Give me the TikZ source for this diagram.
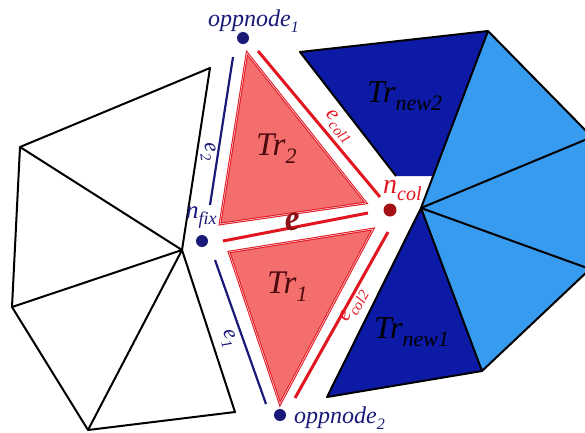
\documentclass[tikz,border=0pt]{standalone}
\usepackage{fontspec}
\setmainfont{Liberation Serif}
\definecolor{salmon}{RGB}{244,110,110}
\definecolor{redln}{RGB}{226,22,32}
\definecolor{dkblue}{RGB}{12,26,166}
\definecolor{ltblue}{RGB}{55,155,240}
\definecolor{navy}{RGB}{25,25,120}
\definecolor{dotred}{RGB}{165,15,22}
\definecolor{trtext}{RGB}{75,10,12}
\definecolor{elbl}{RGB}{140,20,22}
\newcommand\sbs[2]{\raisebox{-0.25em}{\fontsize{#1}{#1}\selectfont #2}}
\begin{document}
\begin{tikzpicture}[x=1pt,y=-1pt,
  meshline/.style={black,line width=2pt,line join=round},
  redtri/.style={fill=salmon,draw=redln,line width=2.6pt,line join=miter},
  redline/.style={redln,line width=3pt},
  blueline/.style={navy,line width=2.2pt},
  inset/.style={white,line width=0.6pt,opacity=0.8},
  dot/.style={circle,fill=navy,inner sep=0pt,minimum size=12pt},
  lbl/.style={inner sep=0pt,font=\itshape}]
\useasboundingbox (0,0) rectangle (585,432);
\clip (0,0) rectangle (585,432);
% left white fan
\coordinate (C0) at (182,250);
\coordinate (P1) at (210,68);
\coordinate (P2) at (20,147);
\coordinate (P3) at (12,307);
\coordinate (P4) at (88,430);
\coordinate (P5) at (235,412);
\draw[meshline] (P1) -- (P2) -- (P3) -- (P4) -- (P5) -- (C0) -- cycle;
\draw[meshline] (C0) -- (P2) (C0) -- (P3) (C0) -- (P4);
% blue fan
\coordinate (O) at (421,208);
\coordinate (A) at (488,31);
\coordinate (B) at (592,137);
\coordinate (Cc) at (590,269);
\coordinate (D) at (482,371);
\coordinate (N2) at (300,52);
\coordinate (N1) at (327,397);
\coordinate (W1) at (396,176);
\coordinate (W2) at (433,176);
\fill[ltblue] (O) -- (A) -- (B) -- (Cc) -- (D) -- cycle;
\fill[dkblue] (N2) -- (A) -- (W2) -- (W1) -- cycle;
\fill[dkblue] (O) -- (D) -- (N1) -- cycle;
\draw[meshline] (W1) -- (N2) -- (A) -- (B) (A) -- (O) -- (B) (O) -- (Cc) -- (D) -- (O)
  (D) -- (N1) -- (O);
% red triangles
\coordinate (T2a) at (247,53);
\coordinate (T2b) at (220,224);
\coordinate (T2c) at (366,203);
\coordinate (T1a) at (229,252);
\coordinate (T1b) at (373,229);
\coordinate (T1c) at (280,404);
\draw[redtri] (T2a) -- (T2b) -- (T2c) -- cycle;
\draw[redtri] (T1a) -- (T1b) -- (T1c) -- cycle;
\begin{scope}[shift={(277.7,160)},scale=0.92,shift={(-277.7,-160)}]
  \draw[inset] (T2a) -- (T2b) -- (T2c) -- cycle;
\end{scope}
\begin{scope}[shift={(294,295)},scale=0.92,shift={(-294,-295)}]
  \draw[inset] (T1a) -- (T1b) -- (T1c) -- cycle;
\end{scope}
% edges
\coordinate (ec1a) at (258,51);
\coordinate (ec1b) at (380,197);
\coordinate (ea) at (223,241);
\coordinate (eb) at (368,213);
\coordinate (ec2a) at (388,232);
\coordinate (ec2b) at (295,398);
\coordinate (e2a) at (233,57);
\coordinate (e2b) at (210,205);
\coordinate (e1a) at (215,260);
\coordinate (e1b) at (266,404);
\draw[redline] (ec1a) -- (ec1b);
\draw[redline] (ea) -- (eb);
\draw[redline] (ec2a) -- (ec2b);
\draw[blueline] (e2a) -- (e2b);
\draw[blueline] (e1a) -- (e1b);
% dots
\node[dot] (opp1) at (243,38) {};
\node[dot] (nfix) at (202,241) {};
\node[dot,fill=dotred,minimum size=13pt] (ncol) at (390,210) {};
\node[dot] (opp2) at (280,415) {};
% labels
\node[lbl,navy,anchor=base west,font=\itshape\fontsize{24}{24}\selectfont] (lopp1) at (208,26) {oppnode\sbs{16}{1}};
\node[lbl,navy,anchor=base west,font=\itshape\fontsize{24}{24}\selectfont] (lopp2) at (294,423) {oppnode\sbs{16}{2}};
\node[lbl,navy,anchor=base west,font=\itshape\fontsize{25}{25}\selectfont] (lnfix) at (186,218) {n\sbs{18}{fix}};
\node[lbl,redln,anchor=base west,font=\itshape\fontsize{28}{28}\selectfont] (lncol) at (383,193) {n\sbs{20}{col}};
\node[lbl,trtext,anchor=base west,font=\itshape\fontsize{33}{33}\selectfont] (ltr2) at (256,155) {Tr\sbs{22}{2}};
\node[lbl,trtext,anchor=base west,font=\itshape\fontsize{33}{33}\selectfont] (ltr1) at (267,293) {Tr\sbs{22}{1}};
\node[lbl,black,anchor=base west,font=\itshape\fontsize{32}{32}\selectfont] (ltrn2) at (367,102) {Tr\sbs{22}{new2}};
\node[lbl,black,anchor=base west,font=\itshape\fontsize{32}{32}\selectfont] (ltrn1) at (374,338) {Tr\sbs{22}{new1}};
\node[lbl,elbl,rotate=10,font=\bfseries\itshape\fontsize{36}{36}\selectfont] (le) at (293,222) {e};
\node[lbl,redln,rotate=-50,font=\itshape\fontsize{22}{22}\selectfont] (lec1) at (339,127) {e\sbs{15}{col1}};
\node[lbl,redln,rotate=61,font=\itshape\fontsize{22}{22}\selectfont] (lec2) at (354,306) {e\sbs{15}{col2}};
\node[lbl,navy,rotate=-81,font=\itshape\fontsize{22}{22}\selectfont] (le2) at (208,152) {e\sbs{15}{2}};
\node[lbl,navy,rotate=-70,font=\itshape\fontsize{22}{22}\selectfont] (le1) at (228,339) {e\sbs{15}{1}};
\end{tikzpicture}
\end{document}
